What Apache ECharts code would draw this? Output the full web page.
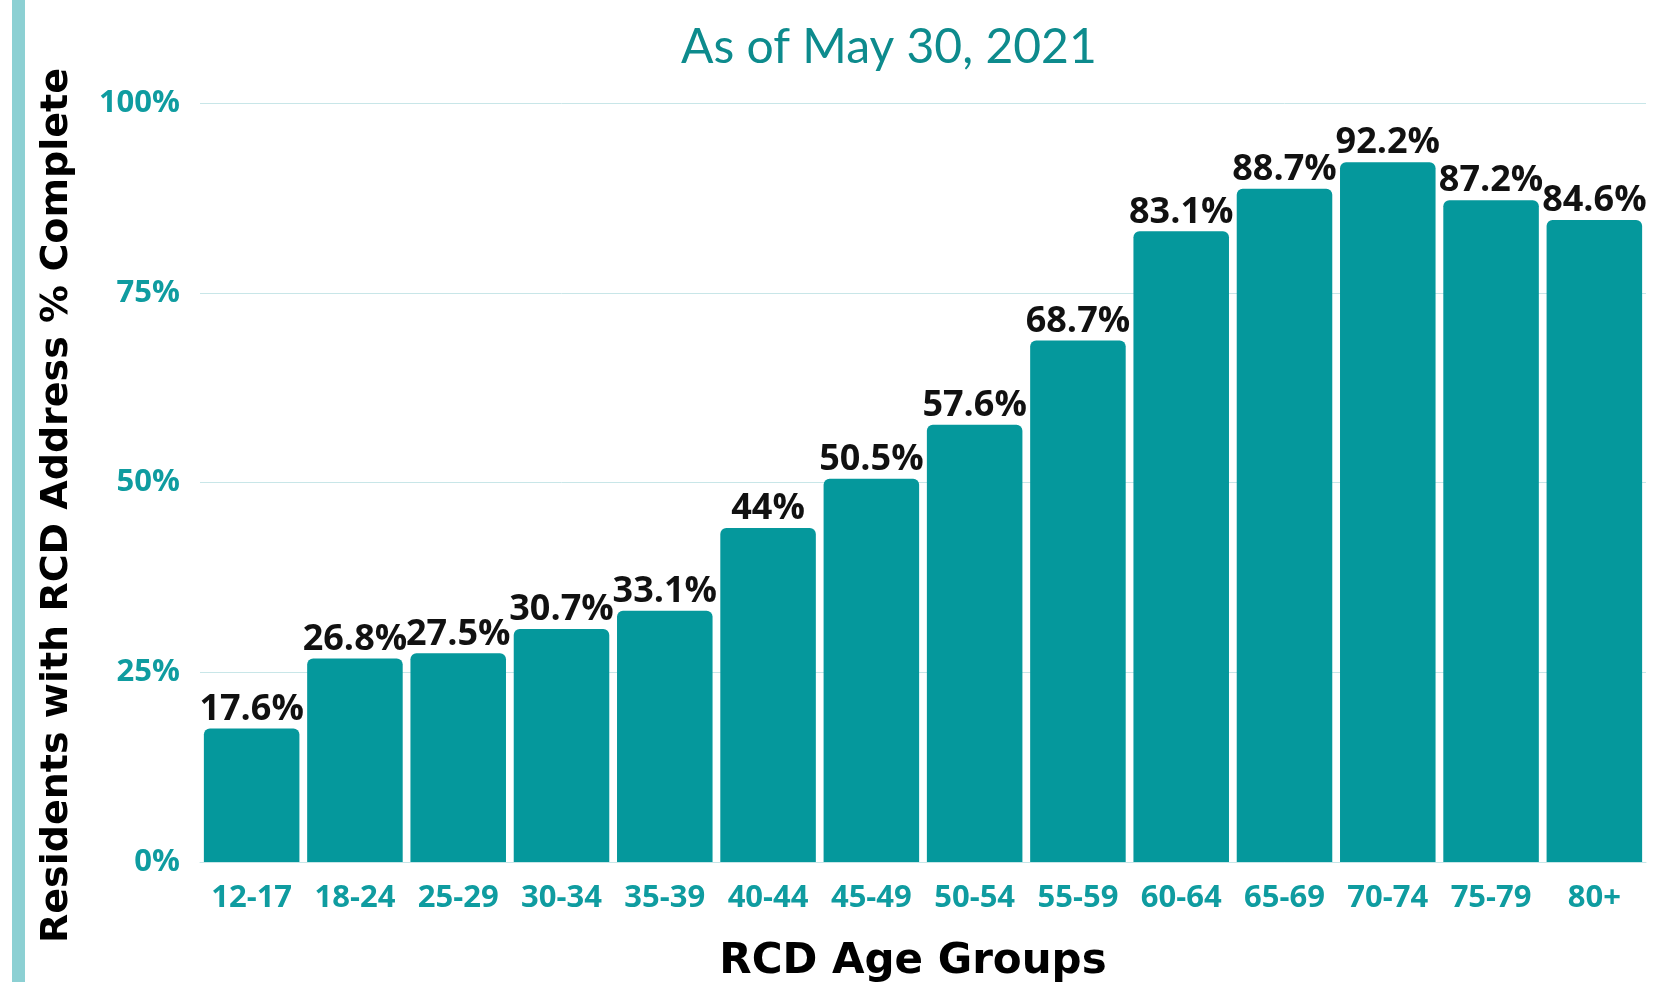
<!DOCTYPE html>
<html>
<head>
<meta charset="utf-8">
<script src="https://cdn.jsdelivr.net/npm/echarts@6/dist/echarts.min.js"></script>
<style>
html,body{margin:0;padding:0;background:#fff;}
#chart{width:1679px;height:982px;}
</style>
</head>
<body>
<div id="chart"></div>
<script>
const categories = ['12-17','18-24','25-29','30-34','35-39','40-44','45-49','50-54','55-59','60-64','65-69','70-74','75-79','80+'];
const values = [17.6, 26.8, 27.5, 30.7, 33.1, 44, 50.5, 57.6, 68.7, 83.1, 88.7, 92.2, 87.2, 84.6];
const yTicks = [0, 25, 50, 75, 100];
const titleText = 'As of May 30, 2021';
const xName = 'RCD Age Groups';
const yName = 'Residents with RCD Address % Complete';

const teal = '#05989c';
const tealText = '#0f9ca0';
const chart = echarts.init(document.getElementById('chart'));
chart.setOption({
  backgroundColor: '#ffffff',
  animation: false,
  title: {
    text: titleText,
    left: 676,
    top: 19,
    textStyle: { fontFamily: 'Lato', fontWeight: 'normal', fontSize: 48, color: '#0d8b8d' }
  },
  graphic: [{
    type: 'rect',
    shape: { x: 12, y: 0, width: 13, height: 982 },
    style: { fill: '#8cd0d3' },
    silent: true
  }],
  grid: { left: 200, right: 33, top: 103, bottom: 120, containLabel: false, outerBoundsMode: 'none' },
  xAxis: {
    type: 'category',
    data: categories,
    name: xName,
    nameLocation: 'middle',
    nameGap: 79,
    nameTextStyle: { fontFamily: 'DejaVu Sans', fontWeight: 'bold', fontSize: 42, color: '#000', padding: [0, 20, 0, 0] },
    axisLine: { show: true, lineStyle: { color: '#c8e6e8', width: 1 } },
    axisTick: { show: false },
    axisLabel: { interval: 0, margin: 21, fontFamily: 'Open Sans', fontWeight: 'bold', fontSize: 31, color: tealText }
  },
  yAxis: {
    type: 'value',
    min: yTicks[0],
    max: yTicks[yTicks.length - 1],
    interval: 25,
    name: yName,
    nameLocation: 'middle',
    nameRotate: 90,
    nameGap: 124,
    nameTextStyle: { fontFamily: 'DejaVu Sans', fontWeight: 'bold', fontSize: 38, color: '#000', padding: [0, 46, 0, 0] },
    axisLine: { show: false },
    axisTick: { show: false },
    splitLine: { show: true, lineStyle: { color: '#c8e6e8', width: 1 } },
    axisLabel: { margin: 20, padding: [6, 0, 0, 0], fontFamily: 'Open Sans', fontWeight: 'bold', fontSize: 31, color: tealText, formatter: v => v + '%' }
  },
  series: [{
    type: 'bar',
    data: values,
    barCategoryGap: '7.5%',
    itemStyle: { color: teal, borderRadius: [6, 6, 0, 0] },
    label: {
      show: true,
      position: 'top',
      distance: 1,
      fontFamily: 'Open Sans',
      fontWeight: 'bold',
      fontSize: 36,
      color: '#111',
      formatter: p => p.value + '%'
    }
  }]
});
</script>
</body>
</html>
